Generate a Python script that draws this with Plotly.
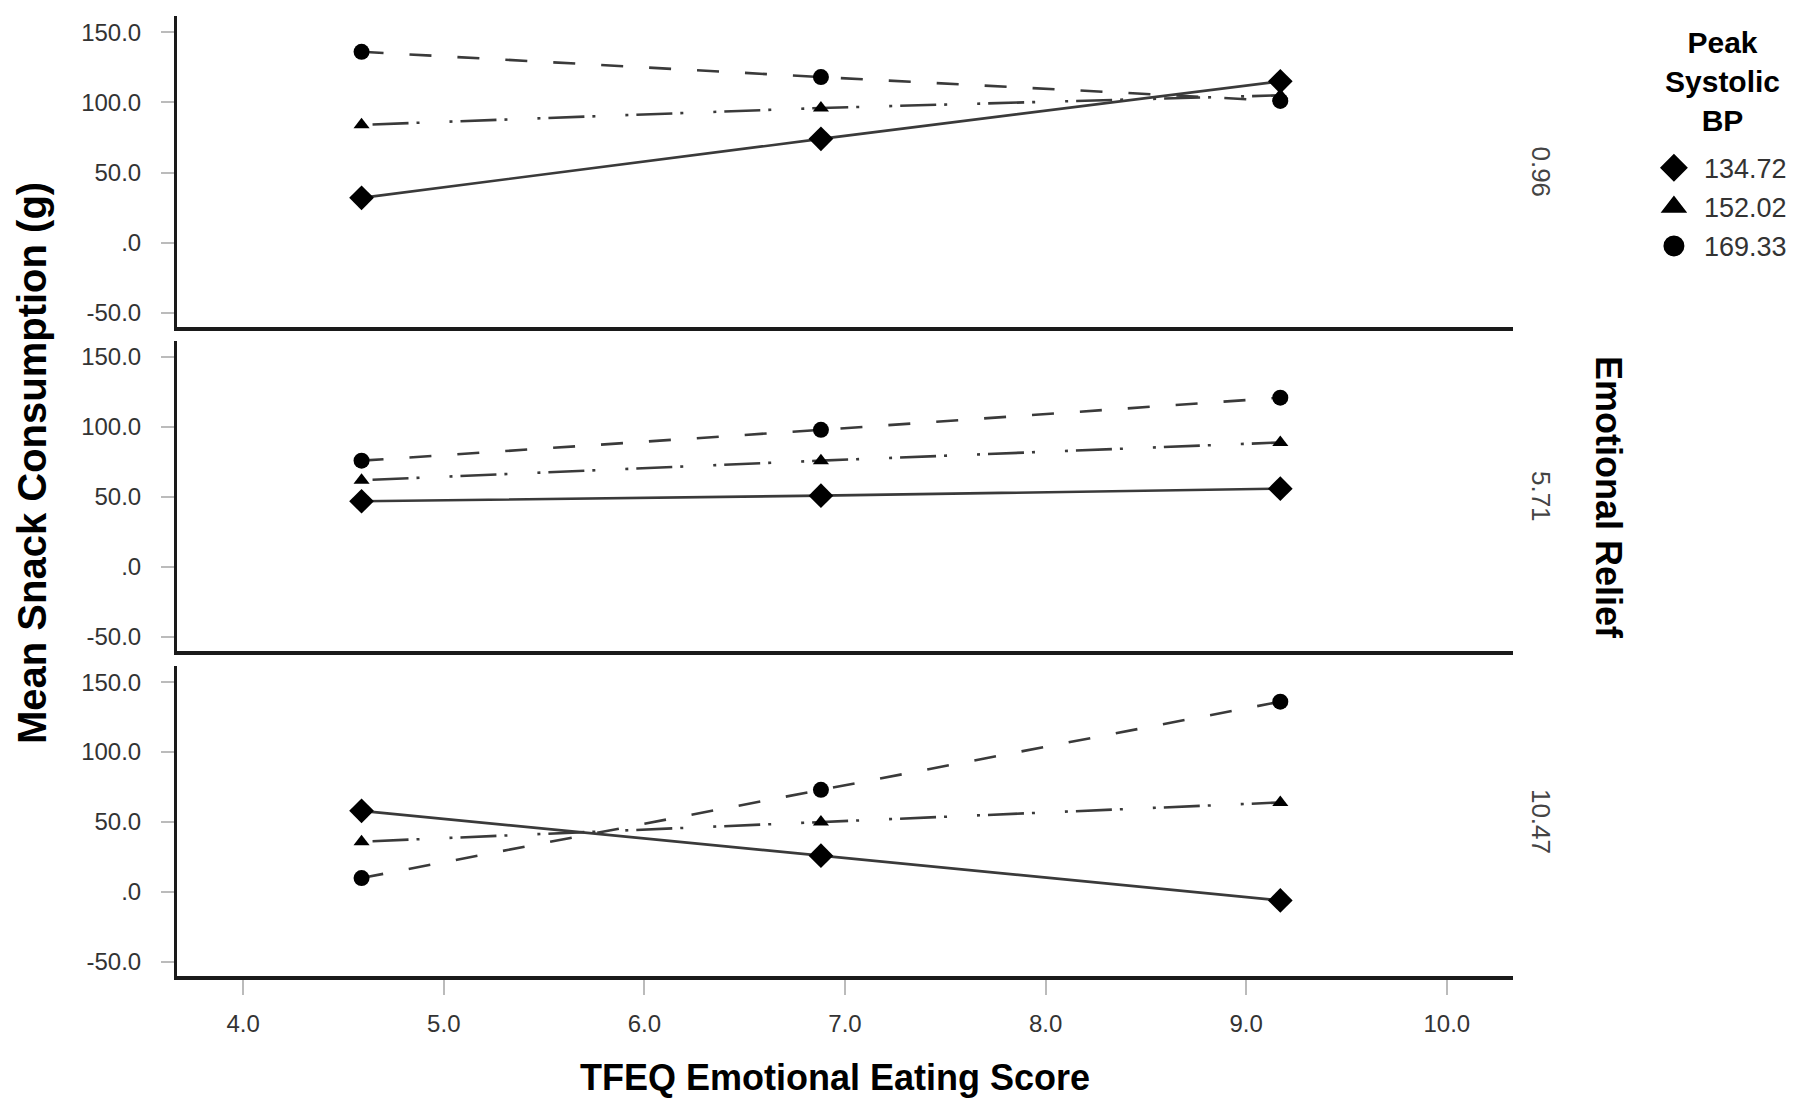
import plotly.graph_objects as go
from plotly.subplots import make_subplots

# TFEQ emotional eating score (x) at -1SD, mean, +1SD
tfeq = [4.59, 6.88, 9.17]

# moderator levels
relief_levels = ["0.96", "5.71", "10.47"]
bp_levels = ["134.72", "152.02", "169.33"]

# mean snack consumption (g), one list per relief panel, per BP level
relief_low_bp134 = [32, 74, 115]
relief_low_bp152 = [84, 96, 105]
relief_low_bp169 = [136, 118, 101]

relief_mid_bp134 = [47, 51, 56]
relief_mid_bp152 = [62, 76, 89]
relief_mid_bp169 = [76, 98, 121]

relief_high_bp134 = [58, 26, -6]
relief_high_bp152 = [36, 50, 64]
relief_high_bp169 = [10, 73, 136]

panels = [
    [relief_low_bp134, relief_low_bp152, relief_low_bp169],
    [relief_mid_bp134, relief_mid_bp152, relief_mid_bp169],
    [relief_high_bp134, relief_high_bp152, relief_high_bp169],
]

ytick_vals = [-50, 0, 50, 100, 150]
ytick_text = ["-50.0", ".0", "50.0", "100.0", "150.0"]
xtick_vals = [4, 5, 6, 7, 8, 9, 10]
xtick_text = ["4.0", "5.0", "6.0", "7.0", "8.0", "9.0", "10.0"]

FONT = "Liberation Sans, Arial, sans-serif"
symbols = ["diamond", "triangle-up", "circle"]
msizes = [19, 14, 16]
dashes = ["solid", "3px,8px,36px,8px,3px,30px", "22px,26px"]

fig = make_subplots(rows=3, cols=1, shared_xaxes=True)

for r, series in enumerate(panels, start=1):
    for k, vals in enumerate(series):
        fig.add_trace(go.Scatter(
            x=tfeq, y=vals, mode="lines+markers",
            line=dict(color="#3a3a3a", width=2.6, dash=dashes[k]),
            marker=dict(symbol=symbols[k], size=msizes[k], color="black"),
            showlegend=False, hoverinfo="skip"),
            row=r, col=1)

# legend entries (markers only)
leg_lw = [5, 4, 5]
for k, lvl in enumerate(bp_levels):
    fig.add_trace(go.Scatter(
        x=[None], y=[None], mode="markers", name=lvl, legendgroup=lvl,
        marker=dict(symbol=symbols[k], size=16, color="black",
                    line=dict(color="black", width=leg_lw[k]))),
        row=1, col=1)

domains = [[0.676, 1.0], [0.3385, 0.6615], [0.0, 0.3229]]
for r in range(1, 4):
    yname = "yaxis" if r == 1 else f"yaxis{r}"
    fig.layout[yname].update(
        domain=domains[r - 1], range=[-60, 161.5],
        tickvals=ytick_vals, ticktext=ytick_text,
        ticks="outside", ticklen=13, tickwidth=1.5, tickcolor="#bbbbbb",
        ticklabelstandoff=15,
        tickfont=dict(family=FONT, size=24, color="#333"),
        showgrid=False, zeroline=False,
        showline=True, linecolor="#1a1a1a", linewidth=3)
    xname = "xaxis" if r == 1 else f"xaxis{r}"
    fig.layout[xname].update(
        range=[3.67, 10.33], tickvals=xtick_vals, ticktext=xtick_text,
        showgrid=False, zeroline=False,
        showline=True, linecolor="#1a1a1a", linewidth=3.5,
        ticks="outside" if r == 3 else "", ticklen=15, tickwidth=1.5,
        tickcolor="#bbbbbb", ticklabelstandoff=8,
        showticklabels=(r == 3),
        tickfont=dict(family=FONT, size=24, color="#333"))
    # facet label on the right
    fig.add_annotation(
        text=relief_levels[r - 1], textangle=90,
        xref="paper", yref="paper", x=1.021, y=sum(domains[r - 1]) / 2,
        xanchor="center", yanchor="middle", showarrow=False,
        font=dict(family=FONT, size=26, color="#444"))

fig.add_annotation(
    text="<b>Emotional Relief</b>", textangle=90,
    xref="paper", yref="paper", x=1.071, y=0.498,
    xanchor="center", yanchor="middle", showarrow=False,
    font=dict(family=FONT, size=36, color="black"))

fig.add_annotation(
    text="<b>Mean Snack Consumption (g)</b>", textangle=-90,
    xref="paper", yref="paper", x=-0.108, y=0.534,
    xanchor="center", yanchor="middle", showarrow=False,
    font=dict(family=FONT, size=40, color="black"))

fig.add_annotation(
    text="<b>TFEQ Emotional Eating Score</b>",
    xref="paper", yref="paper", x=0.4926, y=-0.106,
    xanchor="center", yanchor="middle", showarrow=False,
    font=dict(family=FONT, size=36, color="black"))

# legend heading, centred lines
fig.add_annotation(
    text="<b>Peak<br>Systolic<br>BP</b>", align="center",
    xref="paper", yref="paper", x=1.157, y=0.9313,
    xanchor="center", yanchor="middle", showarrow=False,
    font=dict(family=FONT, size=30, color="black"))

fig.update_layout(
    width=1800, height=1100,
    margin=dict(l=169, r=295, t=8, b=132),
    paper_bgcolor="white", plot_bgcolor="white",
    legend=dict(
        x=1.098, y=0.867, xanchor="left", yanchor="top",
        font=dict(family=FONT, size=27, color="#333"),
        itemsizing="trace", itemwidth=50, tracegroupgap=1,
        bgcolor="rgba(0,0,0,0)"),
)

fig.write_html("out.html")
